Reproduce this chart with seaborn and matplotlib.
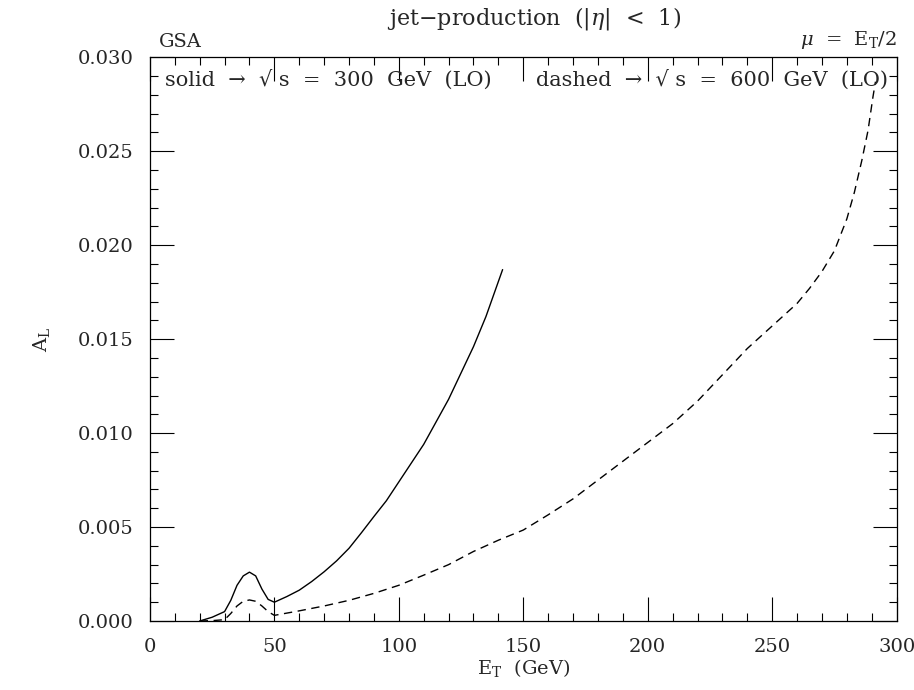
import matplotlib
matplotlib.use("Agg")
from matplotlib import pyplot as plt
from matplotlib.ticker import MultipleLocator, FormatStrFormatter
import seaborn as sns

# solid: sqrt(s) = 300 GeV (LO)
solid_et = [20, 25, 30, 32.5, 35, 37.5, 40, 42.5, 45, 47.5, 50, 55, 60, 65, 70, 75,
            80, 85, 90, 95, 100, 105, 110, 115, 120, 125, 130, 135, 141.7]
solid_al = [0.0, 0.0002, 0.0005, 0.0011, 0.0019, 0.0024, 0.0026, 0.0024, 0.0017,
            0.00115, 0.0010, 0.0013, 0.00164, 0.0021, 0.00262, 0.0032, 0.00387,
            0.0047, 0.00556, 0.0064, 0.0074, 0.0084, 0.0094, 0.0106, 0.0118,
            0.0132, 0.0146, 0.0162, 0.0187]

# dashed: sqrt(s) = 600 GeV (LO)
dashed_et = [20, 25, 30, 32.5, 35, 37.5, 40, 42.5, 45, 47.5, 50, 60, 70, 80, 90,
             100, 110, 120, 130, 140, 150, 160, 170, 180, 190, 200, 210, 220, 230,
             240, 250, 260, 265, 270, 275, 280, 283, 286, 288.5, 290.5, 291.5]
dashed_al = [0.0, 0.00002, 0.00007, 0.0004, 0.0008, 0.00105, 0.00112, 0.00105,
             0.0008, 0.0005, 0.0003, 0.00054, 0.0008, 0.0011, 0.00147, 0.0019,
             0.00244, 0.0030, 0.0037, 0.0043, 0.00484, 0.00565, 0.0065, 0.0075,
             0.0085, 0.0095, 0.0105, 0.0117, 0.0131, 0.0145, 0.0157, 0.0169,
             0.0177, 0.0186, 0.0197, 0.0214, 0.0228, 0.0245, 0.0261, 0.0279, 0.0287]

sns.set_style("ticks")
plt.rcParams['font.family'] = ['DejaVu Serif']
plt.rcParams['mathtext.fontset'] = 'dejavuserif'

fig = plt.figure(figsize=(9.14, 6.9), dpi=100)
ax = fig.add_axes([0.164, 0.100, 0.817, 0.817])

sns.lineplot(x=solid_et, y=solid_al, color='black', linewidth=1.0, ax=ax)
sns.lineplot(x=dashed_et, y=dashed_al, color='black', linewidth=1.0,
             linestyle=(0, (6, 4)), ax=ax)

ax.set_xlim(0, 300)
ax.set_ylim(0, 0.030)
ax.xaxis.set_major_locator(MultipleLocator(50))
ax.xaxis.set_minor_locator(MultipleLocator(10))
ax.yaxis.set_major_locator(MultipleLocator(0.005))
ax.yaxis.set_minor_locator(MultipleLocator(0.001))
ax.yaxis.set_major_formatter(FormatStrFormatter('%.3f'))
ax.tick_params(which='both', direction='in', top=True, right=True,
               color='black', width=0.8, labelsize=14)
ax.tick_params(which='major', length=17)
ax.tick_params(axis='x', which='major', pad=12)
ax.tick_params(axis='y', which='major', pad=12)
ax.tick_params(which='minor', length=5.5)
for sp in ax.spines.values():
    sp.set_linewidth(0.9)
    sp.set_color('black')

ax.set_xlabel(r'$\mathrm{E_T}$  (GeV)', fontsize=14, labelpad=1)
ax.set_ylabel(r'$\mathrm{A_L}$', fontsize=14, labelpad=18)

ax.text(6, 0.0288, 'solid  \u2192  \u221a s  =  300  GeV  (LO)', fontsize=15,
        va='center', ha='left')
ax.text(155, 0.0288, 'dashed  \u2192  \u221a s  =  600  GeV  (LO)', fontsize=15,
        va='center', ha='left')

ax.text(0.515, 1.045, r'jet$-$production  ($|\eta|$  <  1)', transform=ax.transAxes,
        fontsize=16, ha='center', va='bottom')
ax.text(0.012, 1.012, 'GSA', transform=ax.transAxes, fontsize=14,
        ha='left', va='bottom')
ax.text(1.0, 1.012, r'$\mu$  =  $\mathrm{E_T}$/2', transform=ax.transAxes,
        fontsize=14, ha='right', va='bottom')

fig.savefig('out.png', dpi=100)
